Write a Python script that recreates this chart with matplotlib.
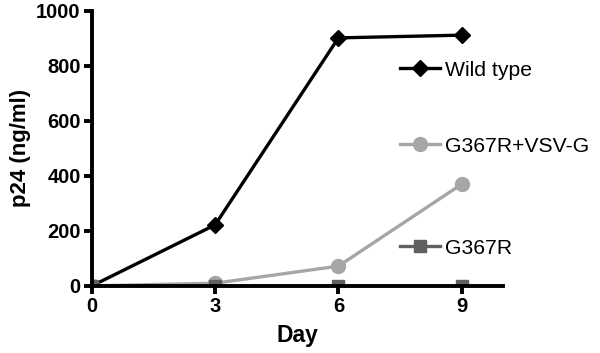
import matplotlib.pyplot as plt
from matplotlib.lines import Line2D

plt.rcParams['font.family'] = ['Liberation Sans', 'DejaVu Sans']

days = [0, 3, 6, 9]
wild_type = [0, 222, 902, 912]
g367r_vsvg = [0, 10, 72, 370]
g367r = [0, 0, 0, 0]

labels = ["Wild type", "G367R+VSV-G", "G367R"]
colors = ["black", "#a6a6a6", "#606060"]
markers = ["D", "o", "s"]
msizes = [8, 10, 8]

fig = plt.figure(figsize=(6, 3.53), dpi=100)
ax = fig.add_axes([0.153, 0.19, 0.685, 0.779])

series = [wild_type, g367r_vsvg, g367r]
for y, lab, c, m, ms in zip(series, labels, colors, markers, msizes):
    ax.plot(days, y, color=c, marker=m, markersize=ms, linewidth=2.4, label=lab, zorder=2)

ax.set_xlim(0, 10)
ax.set_ylim(0, 1000)
ax.set_xticks([0, 3, 6, 9])
ax.set_yticks([0, 200, 400, 600, 800, 1000])

for s in ['top', 'right']:
    ax.spines[s].set_visible(False)
for s in ['left', 'bottom']:
    ax.spines[s].set_linewidth(2.8)
    ax.spines[s].set_zorder(3)

ax.tick_params(width=2.8, length=6, direction='out', labelsize=14.5, pad=2)
for t in ax.get_xticklabels() + ax.get_yticklabels():
    t.set_fontweight('bold')

ax.set_xlabel("Day", fontsize=16.5, fontweight='bold', labelpad=6)
ax.set_ylabel("p24 (ng/ml)", fontsize=16, fontweight='bold', labelpad=4)

# separate legend entries, placed at right
leg_y = [70, 146, 248]
for lab, c, m, ms, py in zip(labels, colors, markers, msizes, leg_y):
    h = Line2D([], [], color=c, marker=m, markersize=ms, linewidth=2.4)
    leg = fig.legend([h], [lab], loc='center left',
                     bbox_to_anchor=(400 / 600, 1 - py / 353),
                     frameon=False, fontsize=15.2, handlelength=1.9,
                     handletextpad=0.25, borderpad=0, borderaxespad=0)

fig.savefig("out.png", dpi=100)
